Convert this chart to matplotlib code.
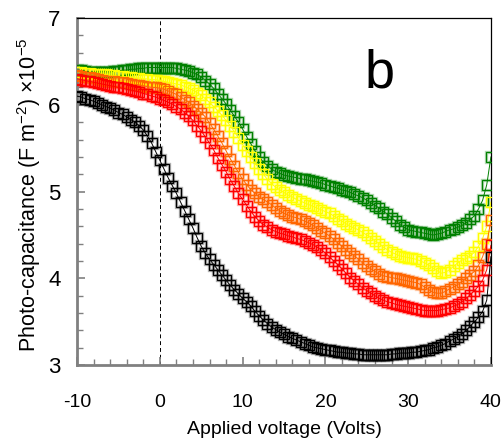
"""Photo-capacitance vs applied voltage, panel b (matplotlib only)."""

import numpy as np
import matplotlib

matplotlib.use("Agg")
import matplotlib.pyplot as plt  # noqa: E402
from matplotlib.ticker import MultipleLocator  # noqa: E402

plt.rcParams["font.family"] = ["Liberation Sans", "DejaVu Sans"]
plt.rcParams["axes.unicode_minus"] = False
plt.rcParams["mathtext.default"] = "regular"

# sweep grid, -10 V .. 40 V in 0.5 V steps (101 points)
voltage = np.linspace(-10, 40, 101)

green = [
    6.40, 6.40, 6.39, 6.38, 6.38, 6.38, 6.38, 6.38, 6.38, 6.39,
    6.39, 6.40, 6.40, 6.41, 6.41, 6.42, 6.42, 6.43, 6.43, 6.43,
    6.43, 6.43, 6.43, 6.43, 6.42, 6.41, 6.40, 6.39, 6.37, 6.35,
    6.32, 6.28, 6.24, 6.19, 6.13, 6.07, 6.01, 5.94, 5.87, 5.80,
    5.72, 5.63, 5.55, 5.47, 5.40, 5.34, 5.30, 5.26, 5.23, 5.21,
    5.19, 5.18, 5.17, 5.16, 5.15, 5.14, 5.13, 5.12, 5.11, 5.10,
    5.08, 5.07, 5.05, 5.04, 5.02, 5.01, 4.99, 4.97, 4.95, 4.93,
    4.90, 4.87, 4.84, 4.81, 4.77, 4.74, 4.70, 4.66, 4.62, 4.59,
    4.56, 4.55, 4.54, 4.53, 4.52, 4.51, 4.50, 4.51, 4.52, 4.54,
    4.56, 4.57, 4.59, 4.61, 4.64, 4.68, 4.72, 4.80, 4.90, 5.08,
    5.40,
]
yellow = [
    6.38, 6.38, 6.37, 6.37, 6.36, 6.36, 6.35, 6.35, 6.34, 6.34,
    6.33, 6.33, 6.32, 6.32, 6.31, 6.31, 6.30, 6.30, 6.29, 6.29,
    6.28, 6.27, 6.26, 6.25, 6.24, 6.23, 6.21, 6.19, 6.17, 6.14,
    6.11, 6.07, 6.03, 5.98, 5.93, 5.88, 5.82, 5.76, 5.69, 5.62,
    5.54, 5.47, 5.40, 5.33, 5.26, 5.20, 5.14, 5.09, 5.05, 5.02,
    4.99, 4.96, 4.94, 4.91, 4.89, 4.87, 4.85, 4.83, 4.81, 4.79,
    4.77, 4.75, 4.72, 4.69, 4.66, 4.63, 4.60, 4.58, 4.56, 4.53,
    4.50, 4.47, 4.43, 4.40, 4.36, 4.33, 4.30, 4.28, 4.26, 4.25,
    4.24, 4.23, 4.22, 4.20, 4.18, 4.15, 4.12, 4.09, 4.06, 4.07,
    4.10, 4.14, 4.18, 4.21, 4.23, 4.26, 4.30, 4.37, 4.46, 4.60,
    4.88,
]
orange = [
    6.34, 6.33, 6.32, 6.32, 6.31, 6.30, 6.29, 6.28, 6.27, 6.27,
    6.26, 6.26, 6.25, 6.24, 6.23, 6.23, 6.22, 6.21, 6.20, 6.20,
    6.19, 6.18, 6.16, 6.14, 6.12, 6.09, 6.06, 6.03, 5.99, 5.95,
    5.91, 5.86, 5.79, 5.72, 5.64, 5.56, 5.47, 5.38, 5.30, 5.22,
    5.14, 5.08, 5.02, 4.98, 4.94, 4.91, 4.88, 4.85, 4.81, 4.78,
    4.75, 4.73, 4.71, 4.70, 4.68, 4.66, 4.64, 4.61, 4.58, 4.55,
    4.52, 4.49, 4.45, 4.41, 4.37, 4.33, 4.29, 4.26, 4.22, 4.18,
    4.14, 4.11, 4.08, 4.05, 4.03, 4.02, 4.01, 4.00, 3.99, 3.98,
    3.97, 3.96, 3.95, 3.93, 3.90, 3.87, 3.84, 3.83, 3.83, 3.85,
    3.88, 3.90, 3.93, 3.96, 4.00, 4.04, 4.08, 4.15, 4.25, 4.40,
    4.67,
]
red = [
    6.30, 6.29, 6.28, 6.27, 6.26, 6.25, 6.24, 6.23, 6.22, 6.21,
    6.20, 6.19, 6.18, 6.17, 6.16, 6.15, 6.13, 6.12, 6.10, 6.09,
    6.07, 6.05, 6.03, 6.01, 5.98, 5.95, 5.91, 5.87, 5.82, 5.76,
    5.70, 5.63, 5.56, 5.48, 5.39, 5.31, 5.23, 5.14, 5.06, 4.98,
    4.91, 4.84, 4.77, 4.71, 4.66, 4.62, 4.59, 4.56, 4.54, 4.52,
    4.51, 4.49, 4.48, 4.46, 4.45, 4.43, 4.41, 4.39, 4.36, 4.33,
    4.29, 4.25, 4.20, 4.16, 4.11, 4.06, 4.01, 3.97, 3.93, 3.89,
    3.86, 3.83, 3.80, 3.77, 3.75, 3.73, 3.72, 3.70, 3.69, 3.68,
    3.67, 3.66, 3.65, 3.64, 3.63, 3.63, 3.63, 3.63, 3.64, 3.65,
    3.66, 3.68, 3.70, 3.73, 3.77, 3.81, 3.86, 3.91, 3.98, 4.10,
    4.38,
]
black = [
    6.10, 6.09, 6.07, 6.06, 6.04, 6.02, 6.00, 5.98, 5.96, 5.94,
    5.91, 5.89, 5.86, 5.83, 5.80, 5.76, 5.71, 5.64, 5.56, 5.46,
    5.36, 5.26, 5.16, 5.07, 4.98, 4.88, 4.78, 4.68, 4.58, 4.47,
    4.37, 4.29, 4.22, 4.16, 4.10, 4.04, 3.98, 3.92, 3.87, 3.82,
    3.77, 3.73, 3.68, 3.62, 3.57, 3.52, 3.48, 3.44, 3.41, 3.38,
    3.36, 3.33, 3.31, 3.29, 3.27, 3.25, 3.23, 3.21, 3.20, 3.19,
    3.18, 3.17, 3.16, 3.15, 3.15, 3.14, 3.14, 3.13, 3.13, 3.12,
    3.12, 3.12, 3.12, 3.12, 3.12, 3.12, 3.13, 3.13, 3.14, 3.14,
    3.14, 3.15, 3.15, 3.16, 3.17, 3.18, 3.20, 3.21, 3.23, 3.25,
    3.28, 3.30, 3.33, 3.36, 3.40, 3.45, 3.50, 3.55, 3.62, 3.75,
    4.25,
]

series = [
    (green, "#008000"),
    (yellow, "#ffff00"),
    (orange, "#ff6600"),
    (red, "#ff0000"),
    (black, "#000000"),
]

fig = plt.figure(figsize=(5.04, 4.40), dpi=100)
ax = fig.add_axes([0.153, 0.170, 0.821, 0.789])

ax.axvline(0, color="black", ls=(0, (4, 3)), lw=0.7, zorder=1)

for vals, col in series:
    # soft halo first, then crisp square outlines + thin connecting line
    ax.plot(voltage, vals, ls="none", marker="s", ms=6.5, mfc="none",
            mec=col, mew=2.4, alpha=0.3, zorder=2)
    ax.plot(voltage, vals, color=col, lw=0.7, marker="s", ms=6.5,
            mfc="none", mec=col, mew=0.9, zorder=3)

ax.text(26.6, 6.2, "b", fontsize=39, ha="center", va="baseline")

ax.set_xlim(-10, 40)
ax.set_ylim(3, 7)
ax.xaxis.set_major_locator(MultipleLocator(10))
ax.xaxis.set_minor_locator(MultipleLocator(2))
ax.yaxis.set_major_locator(MultipleLocator(1))
ax.yaxis.set_minor_locator(MultipleLocator(0.2))
ax.tick_params(which="both", direction="in", color="#808080", top=False, right=False)
ax.tick_params(which="major", length=6, width=1.2)
ax.tick_params(which="minor", length=4.5, width=1.0)
ax.tick_params(axis="x", labelsize=14, pad=21)
ax.tick_params(axis="y", labelsize=16, pad=12)

for side in ("left", "bottom"):
    ax.spines[side].set_color("#808080")
    ax.spines[side].set_linewidth(2.0)
for side in ("top", "right"):
    ax.spines[side].set_color("black")
    ax.spines[side].set_linewidth(0.9)

ax.set_xlabel("Applied voltage (Volts)", fontsize=14, labelpad=7)
ax.set_ylabel("Photo-capacitance (F m$^{-2}$) ×10$^{-5}$", fontsize=15.5)
ax.yaxis.set_label_coords(-0.083, 0.49)

fig.savefig("out.png", dpi=100)
